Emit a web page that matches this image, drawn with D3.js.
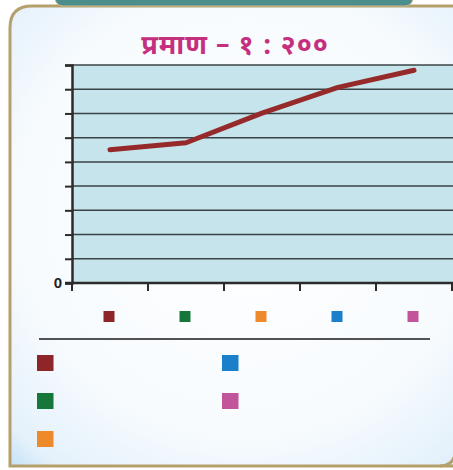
<!DOCTYPE html>
<html>
<head>
<meta charset="utf-8">
<script src="https://cdn.jsdelivr.net/npm/d3@7/dist/d3.min.js"></script>
<style>
html,body{margin:0;padding:0;background:#fff;}
svg{display:block;}
</style>
</head>
<body>
<svg id="chart" width="453" height="470"></svg>
<script>
// ---- data ----
const titleText = "प्रमाण – १ : २००";
const categories = ["c1", "c2", "c3", "c4", "c5"];
const categoryColors = ["#8e2528", "#17763a", "#ef8a2a", "#1c7fc9", "#c1549b"];
const values = [1100, 1158, 1403, 1615, 1757];
const yTicks = [0, 200, 400, 600, 800, 1000, 1200, 1400, 1600, 1800];
const yTickLabels = ["0", "", "", "", "", "", "", "", "", ""];
const legendColumns = [["c1", "c2", "c3"], ["c4", "c5"]];

const svg = d3.select("#chart");
const defs = svg.append("defs");

// background gradient in frame
const rg = defs.append("radialGradient").attr("id", "bg")
  .attr("cx", "50%").attr("cy", "45%").attr("r", "80%");
rg.append("stop").attr("offset", "0%").attr("stop-color", "#ffffff");
rg.append("stop").attr("offset", "60%").attr("stop-color", "#f7fbfe");
rg.append("stop").attr("offset", "85%").attr("stop-color", "#e4f1fb");
rg.append("stop").attr("offset", "100%").attr("stop-color", "#a9d3f2");

// frame
const fx = 10, fy = 6, fw = 470, fh = 460, r = 22;
const framePath = `M${fx},${fy + r} Q${fx},${fy} ${fx + r},${fy} L${fx + fw},${fy} L${fx + fw},${fy + fh} L${fx},${fy + fh} Z`;
svg.append("path").attr("d", framePath).attr("fill", "url(#bg)")
  .attr("stroke", "#b59f6b").attr("stroke-width", 3);
svg.append("path").attr("d", "M440,466 Q452,466 455,455")
  .attr("fill", "none").attr("stroke", "#b59f6b").attr("stroke-width", 3);

// teal banner at top
svg.append("rect").attr("x", 55).attr("y", -10).attr("width", 358).attr("height", 16)
  .attr("rx", 8).attr("fill", "#4b8e8c").attr("stroke", "#c9b98d").attr("stroke-width", 1);

// title
svg.append("text").attr("x", 235).attr("y", 54)
  .attr("text-anchor", "middle")
  .attr("font-family", "'Noto Sans Devanagari', 'Noto Sans', 'Lohit Devanagari', sans-serif")
  .attr("font-weight", "bold").attr("font-size", 27)
  .attr("letter-spacing", 1)
  .attr("fill", "#c5307e").text(titleText);

// scales
const x = d3.scaleBand().domain(categories).range([72, 452]).padding(0);
const y = d3.scaleLinear().domain([0, 1800]).range([283, 65]);

// plot background
svg.append("rect").attr("x", 72).attr("y", y(1800))
  .attr("width", 453 - 72).attr("height", y(0) - y(1800))
  .attr("fill", "#c6e4eb");

// gridlines
svg.append("g").selectAll("line").data(yTicks.slice(1)).join("line")
  .attr("x1", 72).attr("x2", 453)
  .attr("y1", d => y(d)).attr("y2", d => y(d))
  .attr("stroke", "#3a4446").attr("stroke-width", 1.5);

// y axis
const yAxis = d3.axisLeft(y).tickValues(yTicks)
  .tickFormat((d, i) => yTickLabels[i]).tickSize(7).tickPadding(3);
const gy = svg.append("g").attr("transform", "translate(72,0)").call(yAxis);
gy.select(".domain").attr("stroke", "#2b2b2b").attr("stroke-width", 2.5);
gy.selectAll(".tick line").attr("stroke", "#2b2b2b").attr("stroke-width", 2);
gy.selectAll(".tick text").attr("font-family", "'Liberation Sans', Arial, sans-serif")
  .attr("font-weight", "bold").attr("font-size", 15).attr("fill", "#222");

// x axis (ticks at band boundaries)
const xTickPos = categories.map(c => x(c)).concat([x(categories[4]) + x.bandwidth()]);
svg.append("line").attr("x1", 65).attr("x2", 453).attr("y1", y(0)).attr("y2", y(0))
  .attr("stroke", "#2b2b2b").attr("stroke-width", 2.5);
svg.append("g").selectAll("line").data(xTickPos).join("line")
  .attr("x1", d => d).attr("x2", d => d)
  .attr("y1", y(0)).attr("y2", y(0) + 8)
  .attr("stroke", "#2b2b2b").attr("stroke-width", 2);

// line
const line = d3.line()
  .x((d, i) => x(categories[i]) + x.bandwidth() / 2)
  .y(d => y(d))
  .curve(d3.curveLinear);
svg.append("path").datum(values).attr("d", line)
  .attr("fill", "none").attr("stroke", "#962a2a").attr("stroke-width", 5)
  .attr("stroke-linecap", "round").attr("stroke-linejoin", "round");

// category markers under axis
svg.append("g").selectAll("rect").data(categories).join("rect")
  .attr("x", d => x(d) + x.bandwidth() / 2 - 5.5 - 1)
  .attr("y", 311).attr("width", 11).attr("height", 11)
  .attr("fill", (d, i) => categoryColors[i]);

// separator
svg.append("line").attr("x1", 39).attr("x2", 430).attr("y1", 339).attr("y2", 339)
  .attr("stroke", "#1a1a1a").attr("stroke-width", 1.5);

// legend
const colX = [37, 222];
const rowY = [355, 393, 431];
legendColumns.forEach((col, ci) => {
  svg.append("g").selectAll("rect").data(col).join("rect")
    .attr("x", colX[ci]).attr("y", (d, i) => rowY[i])
    .attr("width", 16.5).attr("height", 16)
    .attr("fill", d => categoryColors[categories.indexOf(d)]);
});
</script>
</body>
</html>
